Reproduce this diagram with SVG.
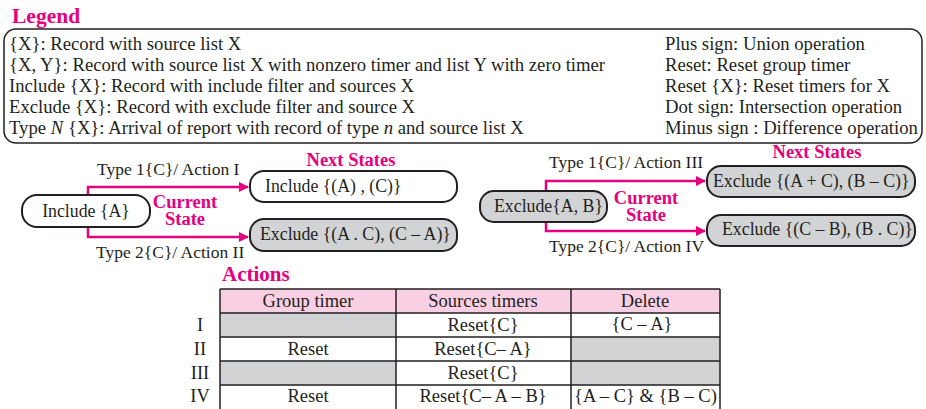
<svg xmlns="http://www.w3.org/2000/svg" width="926" height="409" viewBox="0 0 926 409">
<style>
.lg{font-size:18.7px;fill:#231f20}
.nd{font-size:17.8px;fill:#231f20}
.el{font-size:17.5px;fill:#231f20}
.tb{font-size:18.5px;fill:#231f20}
.pk{fill:#e6007e;font-weight:bold}
.node{stroke:#231f20;stroke-width:2}
.w{fill:#fff}
.gr{fill:#d1d3d4}
.conn{fill:none;stroke:#e6007e;stroke-width:2.5}
.grid{stroke:#231f20;stroke-width:1.5;fill:none}
</style>
<defs>
<marker id="ah" viewBox="0 0 10 10" refX="9" refY="5" markerWidth="4" markerHeight="4" orient="auto" markerUnits="strokeWidth">
<path d="M0,0 L10,5 L0,10 z" fill="#e6007e"/>
</marker>
</defs>
<rect width="926" height="409" fill="#fff"/>
<g id="legend">
<text style="font-family:'Liberation Serif',serif" x="12" y="23" class="pk" font-size="21.5">Legend</text>
<rect x="4" y="29" width="918" height="114" rx="12" fill="none" stroke="#231f20" stroke-width="1.5"/>
<text style="font-family:'Liberation Serif',serif" class="lg" x="9" y="50">{X}: Record with source list X</text>
<text style="font-family:'Liberation Serif',serif" class="lg" x="9" y="71">{X, Y}: Record with source list X with nonzero timer and list Y with zero timer</text>
<text style="font-family:'Liberation Serif',serif" class="lg" x="9" y="92">Include {X}:  Record with include filter and sources X</text>
<text style="font-family:'Liberation Serif',serif" class="lg" x="9" y="113">Exclude {X}:  Record with exclude filter and source X</text>
<text style="font-family:'Liberation Serif',serif" class="lg" x="9" y="134">Type <tspan font-style="italic">N</tspan> {X}:  Arrival of report with record of type <tspan font-style="italic">n</tspan> and source list X</text>
<text style="font-family:'Liberation Serif',serif" class="lg" x="665" y="50">Plus sign: Union operation</text>
<text style="font-family:'Liberation Serif',serif" class="lg" x="665" y="71">Reset: Reset group timer</text>
<text style="font-family:'Liberation Serif',serif" class="lg" x="665" y="92">Reset {X}: Reset timers for X</text>
<text style="font-family:'Liberation Serif',serif" class="lg" x="665" y="113">Dot sign: Intersection operation</text>
<text style="font-family:'Liberation Serif',serif" class="lg" x="665" y="134">Minus sign : Difference operation</text>
</g>
<g id="connectors">
<path class="conn" d="M88,195 V187 H248" marker-end="url(#ah)"/>
<path class="conn" d="M88,227 V237 H248" marker-end="url(#ah)"/>
<path class="conn" d="M546,191 V181 H705" marker-end="url(#ah)"/>
<path class="conn" d="M546,222 V231 H705" marker-end="url(#ah)"/>
<text style="font-family:'Liberation Serif',serif" class="el" x="97" y="175">Type 1{C}/ Action I</text>
<text style="font-family:'Liberation Serif',serif" class="el" x="96" y="258">Type 2{C}/ Action II</text>
<text style="font-family:'Liberation Serif',serif" class="el" x="549" y="168">Type 1{C}/ Action III</text>
<text style="font-family:'Liberation Serif',serif" class="el" x="549" y="252">Type 2{C}/ Action IV</text>
</g>
<g id="labels">
<text style="font-family:'Liberation Serif',serif" class="pk" font-size="18.5" x="351" y="166" text-anchor="middle">Next States</text>
<text style="font-family:'Liberation Serif',serif" class="pk" font-size="18.5" x="185" y="208" text-anchor="middle">Current</text>
<text style="font-family:'Liberation Serif',serif" class="pk" font-size="18.5" x="185" y="225" text-anchor="middle">State</text>
<text style="font-family:'Liberation Serif',serif" class="pk" font-size="18.5" x="817" y="158" text-anchor="middle">Next States</text>
<text style="font-family:'Liberation Serif',serif" class="pk" font-size="18.5" x="646" y="204" text-anchor="middle">Current</text>
<text style="font-family:'Liberation Serif',serif" class="pk" font-size="18.5" x="646" y="221" text-anchor="middle">State</text>
</g>
<g id="n-include-a">
<rect class="node w" x="22" y="195" width="128" height="32" rx="15"/>
<text style="font-family:'Liberation Serif',serif" class="nd" x="86" y="217" text-anchor="middle">Include {A}</text>
</g>
<g id="n-include-ac">
<rect class="node w" x="250" y="171" width="207" height="31" rx="14"/>
<text style="font-family:'Liberation Serif',serif" class="nd" x="265" y="192">Include {(A) , (C)}</text>
</g>
<g id="n-exclude-ac">
<rect class="node gr" x="250" y="219" width="207" height="32" rx="14"/>
<text style="font-family:'Liberation Serif',serif" class="nd" x="260" y="240">Exclude {(A . C), (C – A)}</text>
</g>
<g id="n-exclude-ab">
<rect class="node gr" x="480" y="191" width="127" height="31" rx="14"/>
<text style="font-family:'Liberation Serif',serif" class="nd" x="494" y="212">Exclude{A, B}</text>
</g>
<g id="n-exclude-acbc">
<rect class="node gr" x="707" y="166" width="208" height="31" rx="14"/>
<text style="font-family:'Liberation Serif',serif" class="nd" x="713" y="187">Exclude {(A + C), (B – C)}</text>
</g>
<g id="n-exclude-cbbc">
<rect class="node gr" x="707" y="215" width="208" height="31" rx="14"/>
<text style="font-family:'Liberation Serif',serif" class="nd" x="722" y="235">Exclude {(C – B), (B . C)}</text>
</g>
<g id="actions">
<text style="font-family:'Liberation Serif',serif" class="pk" font-size="21" x="222" y="281">Actions</text>
<rect x="220" y="289" width="500" height="24" fill="#f9d0e3"/>
<rect x="220" y="313" width="176" height="24" class="gr"/>
<rect x="220" y="361" width="176" height="24" class="gr"/>
<rect x="571" y="337" width="149" height="48" class="gr"/>
<path class="grid" d="M220,289 H720 M220,313 H720 M220,337 H720 M220,361 H720 M220,385 H720 M220,289 V412 M396,289 V412 M571,289 V412 M720,289 V412"/>
<text style="font-family:'Liberation Serif',serif" class="tb" x="308" y="307" text-anchor="middle">Group timer</text>
<text style="font-family:'Liberation Serif',serif" class="tb" x="483" y="307" text-anchor="middle">Sources timers</text>
<text style="font-family:'Liberation Serif',serif" class="tb" x="645" y="307" text-anchor="middle">Delete</text>
<text style="font-family:'Liberation Serif',serif" class="tb" x="200" y="331" text-anchor="middle">I</text>
<text style="font-family:'Liberation Serif',serif" class="tb" x="200" y="355" text-anchor="middle">II</text>
<text style="font-family:'Liberation Serif',serif" class="tb" x="200" y="379" text-anchor="middle">III</text>
<text style="font-family:'Liberation Serif',serif" class="tb" x="200" y="402" text-anchor="middle">IV</text>
<text style="font-family:'Liberation Serif',serif" class="tb" x="483" y="331" text-anchor="middle">Reset{C}</text>
<text style="font-family:'Liberation Serif',serif" class="tb" x="642" y="330" text-anchor="middle">{C – A}</text>
<text style="font-family:'Liberation Serif',serif" class="tb" x="308" y="355" text-anchor="middle">Reset</text>
<text style="font-family:'Liberation Serif',serif" class="tb" x="483" y="355" text-anchor="middle">Reset{C– A}</text>
<text style="font-family:'Liberation Serif',serif" class="tb" x="483" y="379" text-anchor="middle">Reset{C}</text>
<text style="font-family:'Liberation Serif',serif" class="tb" x="308" y="402" text-anchor="middle">Reset</text>
<text style="font-family:'Liberation Serif',serif" class="tb" x="483" y="402" text-anchor="middle">Reset{C– A – B}</text>
<text style="font-family:'Liberation Serif',serif" class="tb" x="574" y="402">{A – C} &amp; {B – C)</text>
</g>
</svg>
